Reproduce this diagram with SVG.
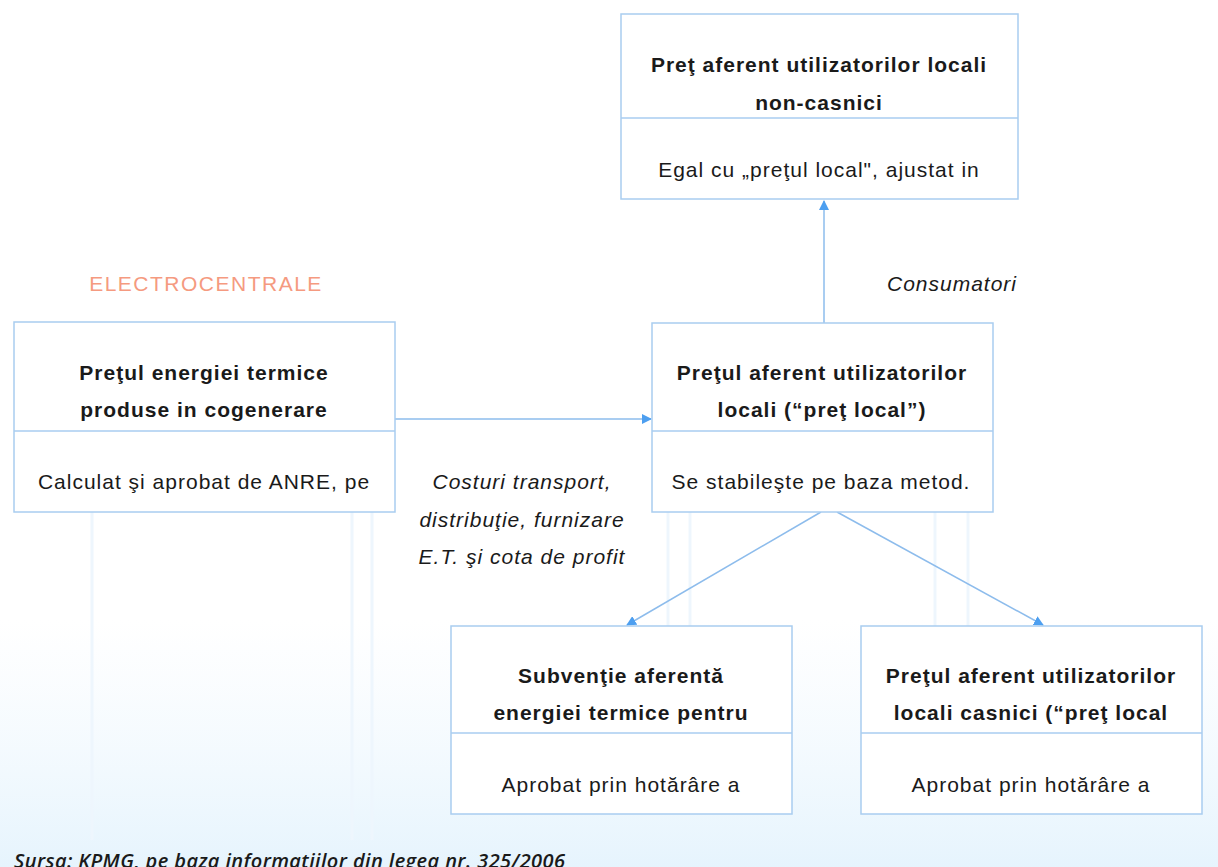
<svg xmlns="http://www.w3.org/2000/svg" width="1218" height="867" viewBox="0 0 1218 867">
<defs>
<style>
.box{fill:#ffffff;stroke:#a9cdf0;stroke-width:1.5}
.div{stroke:#a9cdf0;stroke-width:1.5}
.conn{stroke:#8dbcec;stroke-width:1.5;fill:none}
.t{font-family:"Liberation Sans",Arial,sans-serif;font-weight:bold;font-size:21px;letter-spacing:1px;fill:#1a1a1a;text-anchor:middle}
.b{font-family:"Liberation Sans",Arial,sans-serif;font-size:21px;letter-spacing:1px;fill:#1a1a1a;text-anchor:middle}
.i{font-family:"Liberation Sans",Arial,sans-serif;font-style:italic;font-size:21px;letter-spacing:1px;fill:#1a1a1a;text-anchor:middle}
.bg{stroke:#eef6fd;stroke-width:3}
</style>
<marker id="ah" viewBox="0 0 10 10" refX="9" refY="5" markerWidth="10" markerHeight="10" markerUnits="userSpaceOnUse" orient="auto">
<path d="M0,0 L10,5 L0,10 z" fill="#4d9ff0"/>
</marker>
<linearGradient id="wash" x1="0" y1="0" x2="0" y2="1">
<stop offset="0" stop-color="#eef7fe" stop-opacity="0"/>
<stop offset="1" stop-color="#e6f4fd" stop-opacity="1"/>
</linearGradient>
</defs>
<rect width="1218" height="867" fill="#ffffff"/>
<g id="background">
<rect x="0" y="620" width="1218" height="247" fill="url(#wash)"/>
<line class="bg" x1="92" y1="512" x2="92" y2="840"/>
<line class="bg" x1="352" y1="512" x2="352" y2="840"/>
<line class="bg" x1="372" y1="512" x2="372" y2="840"/>
<line class="bg" x1="668" y1="512" x2="668" y2="626"/>
<line class="bg" x1="690" y1="512" x2="690" y2="626"/>
<line class="bg" x1="935" y1="512" x2="935" y2="626"/>
<line class="bg" x1="968" y1="512" x2="968" y2="626"/>
</g>
<g id="connectors">
<line class="conn" x1="824" y1="323" x2="824" y2="201" marker-end="url(#ah)"/>
<line class="conn" x1="395" y1="419" x2="651" y2="419" marker-end="url(#ah)"/>
<line class="conn" x1="821" y1="512" x2="627" y2="625" marker-end="url(#ah)"/>
<line class="conn" x1="837" y1="512" x2="1043" y2="625" marker-end="url(#ah)"/>
<text class="i" x="952" y="291">Consumatori</text>
<text class="i" x="522" y="489">Costuri transport,</text>
<text class="i" x="522" y="527">distribuţie, furnizare</text>
<text class="i" x="522" y="564">E.T. şi cota de profit</text>
</g>
<g id="label-electrocentrale">
<text x="206" y="291" font-family="Liberation Sans, Arial, sans-serif" font-size="21" letter-spacing="1.5" fill="#f59a80" text-anchor="middle">ELECTROCENTRALE</text>
</g>
<g id="node-non-casnici">
<rect class="box" x="621" y="14" width="397" height="185"/>
<line class="div" x1="621" y1="118" x2="1018" y2="118"/>
<text class="t" x="819" y="72">Preţ aferent utilizatorilor locali</text>
<text class="t" x="819" y="110">non-casnici</text>
<text class="b" x="819" y="177">Egal cu „preţul local", ajustat in</text>
</g>
<g id="node-cogenerare">
<rect class="box" x="14" y="322" width="381" height="190"/>
<line class="div" x1="14" y1="431" x2="395" y2="431"/>
<text class="t" x="204" y="380">Preţul energiei termice</text>
<text class="t" x="204" y="417">produse in cogenerare</text>
<text class="b" x="204" y="489">Calculat şi aprobat de ANRE, pe</text>
</g>
<g id="node-pret-local">
<rect class="box" x="652" y="323" width="341" height="189"/>
<line class="div" x1="652" y1="431" x2="993" y2="431"/>
<text class="t" x="822" y="380">Preţul aferent utilizatorilor</text>
<text class="t" x="822" y="417">locali (“preţ local”)</text>
<text class="b" x="821" y="489">Se stabileşte pe baza metod.</text>
</g>
<g id="node-subventie">
<rect class="box" x="451" y="626" width="341" height="188"/>
<line class="div" x1="451" y1="733" x2="792" y2="733"/>
<text class="t" x="621" y="683">Subvenţie aferentă</text>
<text class="t" x="621" y="720">energiei termice pentru</text>
<text class="b" x="621" y="792">Aprobat prin hotărâre a</text>
</g>
<g id="node-casnici">
<rect class="box" x="861" y="626" width="341" height="188"/>
<line class="div" x1="861" y1="733" x2="1202" y2="733"/>
<text class="t" x="1031" y="683">Preţul aferent utilizatorilor</text>
<text class="t" x="1031" y="720">locali casnici (“preţ local</text>
<text class="b" x="1031" y="792">Aprobat prin hotărâre a</text>
</g>
<g id="source">
<text x="14" y="868" font-family="Open Sans, sans-serif" font-style="italic" font-weight="600" font-size="20" letter-spacing="0.4" fill="#1a1a1a">Sursa: KPMG, pe baza informaţiilor din legea nr. 325/2006</text>
</g>
</svg>
